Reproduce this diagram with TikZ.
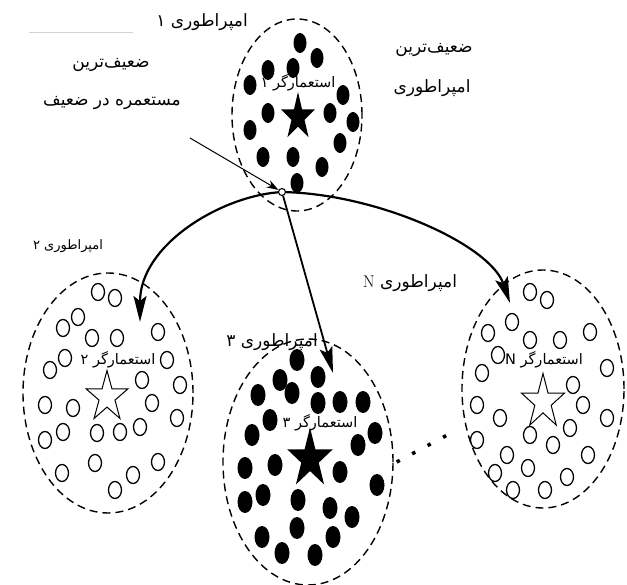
\documentclass[tikz,border=0pt]{standalone}
\usepackage{fontspec}
\newfontfamily\arabicfont[Script=Arabic]{DejaVu Sans}
\TeXXeTstate=1
\usepackage{tikz}
\usetikzlibrary{positioning, arrows.meta, shapes.geometric, calc}

% right-to-left label text
\newcommand{\fa}[1]{\arabicfont\beginR #1\endR}
% five-point star: x, y, x-radius, y-radius, style
\newcommand{\colstar}[5]{%
  \path[#5, shift={(#1,#2)}, xscale=#3, yscale=#4]
    plot[samples at={0,...,9}] ({-90+36*\x}:{ifthenelse(mod(\x,2)==0,1,0.382)}) -- cycle;}

\begin{document}
\begin{tikzpicture}[
    x=1pt, y=-1pt,
    empire/.style={ellipse, draw, line width=1.4pt, dash pattern=on 8pt off 5pt, inner sep=0pt},
    hub/.style={circle, draw, line width=1.1pt, fill=white, inner sep=0pt, minimum size=7pt},
    lbl/.style={inner sep=1pt, font=\fontsize{17}{20}\selectfont},
    impl/.style={inner sep=1pt, font=\fontsize{14.5}{17}\selectfont},
    small/.style={inner sep=1pt, font=\fontsize{13}{15}\selectfont},
    bigarrow/.style={line width=2.2pt, -{Stealth[length=26pt, width=13pt, inset=5pt]}},
    thinarrow/.style={line width=1pt, -{Stealth[length=12pt, width=8pt]}}
]
    \useasboundingbox (0,0) rectangle (627,585);
    % Empires
    \node[empire, minimum width=130pt, minimum height=192pt] (emp1) at (297,115) {};
    \node[empire, minimum width=170pt, minimum height=240pt] (emp2) at (108,393) {};
    \node[empire, minimum width=170pt, minimum height=246pt] (emp3) at (308,462) {};
    \node[empire, minimum width=162pt, minimum height=238pt] (empN) at (543,389) {};
    % Colonies
    \foreach \x/\y in {300/43, 317/58, 268/70, 293/68, 250/85, 343/95, 268/113, 330/113,
        353/122, 250/130, 340/143, 263/157, 293/157, 322/167, 297/183}
        \fill (\x,\y) ellipse (6.5pt and 10pt);
    \foreach \x/\y in {98/292, 115/298, 78/317, 63/328, 92/338, 117/338, 158/332, 65/358,
        50/370, 167/360, 142/380, 180/385, 45/405, 73/408, 152/403, 177/418, 63/432, 97/433,
        120/432, 140/427, 45/440, 95/463, 158/462, 62/473, 133/475, 115/490}
        \draw[line width=1.3pt] (\x,\y) ellipse (6.5pt and 8.5pt);
    \foreach \x/\y in {297/360, 318/377, 280/380, 258/395, 292/393, 318/403, 340/402, 363/402,
        270/420, 252/435, 375/433, 358/445, 245/468, 275/465, 340/472, 377/485, 263/495,
        245/502, 298/500, 330/508, 352/517, 262/537, 297/528, 333/537, 282/553, 315/555}
        \fill (\x,\y) ellipse (7.5pt and 11pt);
    \foreach \x/\y in {530/292, 547/300, 512/322, 488/333, 530/340, 560/340, 590/332, 498/355,
        482/373, 607/368, 573/385, 583/405, 477/405, 500/418, 607/418, 570/428, 530/435,
        553/445, 477/440, 507/455, 588/455, 528/468, 495/473, 567/477, 513/490, 545/490}
        \draw[line width=1.3pt] (\x,\y) ellipse (6.5pt and 8.5pt);
    % Imperialists
    \colstar{298}{117}{18}{25}{fill=black}
    \colstar{107}{397}{22}{26.5}{draw, line width=1pt, fill=white}
    \colstar{310}{459}{24}{31.5}{fill=black}
    \colstar{543}{402}{22.5}{28.5}{draw, line width=1pt, fill=white}
    \node[impl] (imp1) at (298,83) {\fa{استعمارگر ۱}};
    \node[impl] (imp2) at (118,360) {\fa{استعمارگر ۲}};
    \node[impl] (imp3) at (320,423) {\fa{استعمارگر ۳}};
    \node[impl] (impN) at (544,360) {\fa{استعمارگر N}};
    % Labels
    \node[lbl] (name1) at (202,22) {\fa{امپراطوری ۱}};
    \node[small] (name2) at (68,246) {\fa{امپراطوری ۲}};
    \node[lbl] (name3) at (272,342) {\fa{امپراطوری ۳}};
    \node[lbl] (nameN) at (410,283) {\arabicfont\beginR امپراطوری {\rmfamily N}\endR};
    \node[lbl] (weakA) at (111,65) {\fa{ضعیف‌ترین}};
    \node[lbl] (weakB) at (112,103) {\fa{مستعمره در ضعیف}};
    \node[lbl] (weakC) at (434,50) {\fa{ضعیف‌ترین}};
    \node[lbl] (weakD) at (432,88) {\fa{امپراطوری}};
    \draw[gray!35, line width=0.8pt] (29,32) -- (133,32);
    % Competition
    \node[hub] (hub) at (282,192) {};
    \coordinate (src) at (190,138);
    \coordinate (tip2) at (140,322);
    \coordinate (tip3) at (333,373);
    \coordinate (tipN) at (510,303);
    \draw[thinarrow] (src) -- (hub);
    \draw[bigarrow] (hub) .. controls (220,197) and (140,245) .. (tip2);
    \draw[bigarrow, line width=1.8pt] (hub) -- (tip3);
    \draw[bigarrow] (hub) .. controls (380,195) and (490,245) .. (tipN);
    \draw[line width=3.5pt, dash pattern=on 3.5pt off 14pt]
        ([xshift=3pt]emp3.east) -- ([xshift=-12pt, yshift=-45pt]empN.west);
\end{tikzpicture}
\end{document}
